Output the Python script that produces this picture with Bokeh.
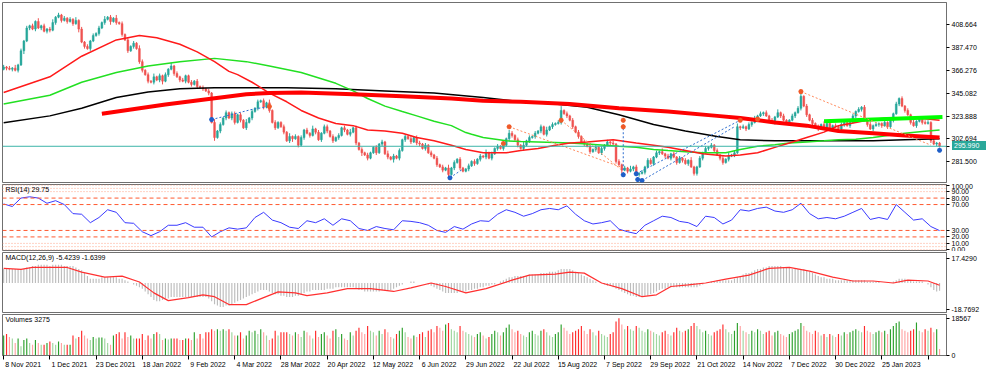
import numpy as np
from bokeh.plotting import figure
from bokeh.models import Range1d, FixedTicker, Label, Span, ColumnDataSource, Div
from bokeh.layouts import column
from bokeh.embed import file_html
from bokeh.resources import INLINE

# ---------------- data ----------------
date_labels = ["8 Nov 2021", "1 Dec 2021", "23 Dec 2021", "18 Jan 2022", "9 Feb 2022",
               "4 Mar 2022", "28 Mar 2022", "20 Apr 2022", "12 May 2022", "6 Jun 2022",
               "29 Jun 2022", "22 Jul 2022", "15 Aug 2022", "7 Sep 2022", "29 Sep 2022",
               "21 Oct 2022", "14 Nov 2022", "7 Dec 2022", "30 Dec 2022", "25 Jan 2023",
               "16 Feb 2023"]
date_label_bars = [0, 16, 32, 48, 64, 80, 96, 112, 128, 144, 160, 176, 192, 208, 224,
                   240, 256, 272, 288, 304, 320]
price_ticks = [281.5, 302.694, 323.888, 345.082, 366.276, 387.47, 408.664]
last_price = 295.99

first_open = 367.0
closes = [
    369, 368, 367, 368, 366, 371, 384, 393, 405, 407, 404, 411, 405, 407, 402, 404,
    403, 410, 415, 417, 412, 414, 411, 413, 409, 412, 404, 392, 388, 386, 393, 398,
    400, 405, 410, 413, 415, 411, 414, 410, 409, 399, 394, 384, 388, 391, 386, 374,
    366, 362, 356, 355, 360, 357, 361, 356, 362, 367, 370, 363, 360, 357, 356, 361,
    355, 353, 356, 351, 350, 349, 347, 345, 318, 304, 310, 316, 322, 327, 322, 326,
    318, 325, 320, 313, 318, 322, 328, 331, 337, 338, 332, 336, 329, 318, 313, 318,
    314, 309, 301, 305, 303, 305, 297, 304, 311, 308, 306, 312, 309, 302, 308, 314,
    310, 305, 301, 304, 306, 313, 311, 307, 309, 313, 299, 293, 290, 288, 285, 290,
    295, 290, 298, 300, 289, 286, 284, 287, 285, 292, 302, 305, 303, 300, 304, 299,
    298, 294, 297, 290, 288, 285, 279, 277, 274, 276, 270, 276, 281, 284, 276, 273,
    275, 278, 282, 280, 284, 287, 286, 290, 285, 289, 294, 296, 294, 297, 303, 308,
    306, 302, 297, 294, 297, 301, 304, 305, 308, 310, 314, 307, 311, 314, 316, 317,
    318, 329, 326, 324, 320, 314, 309, 305, 300, 298, 296, 291, 293, 295, 290, 294,
    297, 300, 299, 298, 282, 279, 274, 276, 273, 275, 277, 270, 271, 272, 277, 283,
    280, 286, 290, 291, 289, 287, 285, 289, 286, 281, 285, 283, 280, 283, 277, 271,
    277, 285, 290, 294, 295, 297, 292, 288, 285, 281, 284, 287, 288, 290, 314, 313,
    314, 312, 316, 318, 321, 324, 326, 327, 324, 320, 318, 323, 327, 324, 320, 318,
    320, 324, 327, 331, 342, 333, 325, 320, 317, 314, 312, 316, 313, 317, 312, 315,
    314, 312, 316, 318, 315, 318, 324, 328, 330, 332, 320, 316, 312, 315, 316, 317,
    315, 318, 314, 320, 326, 335, 340, 333, 329, 325, 318, 315, 319, 321, 318, 317,
    318, 301, 298, 299, 295.99]
upper_wick = ("2121312121213121" "2312121213121212" "1213121312121213" "2121312121312121"
              "1212121213121212" "2121312121213121" "1213121212131212" "2121212131212121"
              "1212131212121312" "2121212121312121" "1212121312121213" "2121312121213121"
              "2412121212131212" "1212121213121212" "2121312121212131" "1212121212131231"
              "2121312121213121" "1212412121213121" "2121312121213121" "1212121212131212"
              "21211")
lower_wick = ("1212121312121212" "2121212121312121" "1212131212121212" "2121212312121212"
              "1212121213121212" "2121212121212121" "1212312121212121" "2121212121213121"
              "1212121312121212" "2121212121312121" "1212121212121212" "2121212121212121"
              "1212121212121212" "2121213121212121" "1212121212121212" "2121212122121212"
              "1212121212121212" "2121212121212121" "1212121212121212" "2121212121212121"
              "12121")

volumes = [
    10000, 10800, 9300, 8500, 6200, 8500, 4600, 7700, 8500, 6200, 5400, 7700, 6200, 5400, 5400, 6200,
    7000, 6200, 5400, 7000, 6200, 5400, 5400, 5400, 10000, 8500, 9300, 12400, 10000, 8500, 7700, 9300,
    8500, 9000, 9000, 8500, 6200, 5400, 10000, 10800, 11600, 8500, 11600, 9300, 10000, 8500, 8500, 8500,
    10800, 7700, 10000, 8500, 10800, 11600, 10800, 7700, 8500, 8000, 8500, 8500, 8500, 7700, 7700, 8500,
    8500, 7700, 11600, 8500, 10800, 8500, 11600, 11600, 13100, 12400, 13100, 12400, 13100, 12400, 13100, 11600,
    10000, 10000, 11600, 8500, 10000, 12400, 11600, 12400, 10800, 13100, 11600, 10000, 7700, 8500, 12400, 10000,
    11600, 11600, 11600, 10800, 10000, 11600, 10800, 9300, 12400, 11600, 10000, 8500, 12400, 9300, 10800, 11600,
    10000, 8500, 12400, 13100, 9300, 10800, 8500, 7700, 11600, 10000, 12400, 13900, 11600, 10800, 14700, 12400,
    11600, 10000, 12400, 10800, 13100, 11600, 9300, 8500, 10800, 12400, 13900, 11600, 9300, 8500, 10000, 9300,
    10800, 11600, 9300, 12400, 13100, 11600, 14700, 13900, 12400, 15500, 16200, 13100, 12400, 11600, 14700, 12400,
    11600, 10800, 10000, 9300, 10800, 11600, 10000, 8500, 9300, 10800, 12400, 11600, 10000, 11600, 13900, 15500,
    13100, 11600, 12400, 10800, 10000, 9300, 11600, 12400, 10800, 10000, 12400, 13100, 11600, 10000, 9300, 10800,
    11600, 15500, 13900, 12400, 10800, 11600, 12400, 13100, 14700, 12400, 10800, 13100, 11600, 10000, 12400, 10800,
    10000, 9300, 10800, 11600, 17000, 18567, 15500, 13100, 14700, 13100, 12400, 14700, 13900, 12400, 11600, 13100,
    12400, 11600, 10800, 10000, 11600, 12400, 10800, 10000, 11600, 13900, 12400, 11600, 12400, 13100, 14700, 16200,
    14700, 13100, 11600, 12400, 10800, 10000, 11600, 12400, 13100, 15500, 13100, 11600, 10800, 12400, 16200, 14700,
    12400, 11600, 10800, 12400, 11600, 13100, 12400, 10800, 11600, 12400, 10000, 11600, 12400, 10800, 10000, 9300,
    10800, 11600, 12400, 13100, 16200, 14700, 12400, 11600, 10800, 12400, 11600, 10000, 10800, 9300, 10800, 10000,
    9300, 10800, 10000, 11600, 10800, 11600, 12400, 13100, 12400, 11600, 14700, 12400, 11600, 10800, 11600, 12400,
    11600, 12400, 10800, 13100, 14700, 16200, 17000, 13100, 12400, 11600, 12400, 13100, 16500, 12400, 11600, 13100,
    12400, 13900, 11600, 13100, 3275]

macd_main = [
    10, 10, 10, 10, 10, 10, 10, 10, 11, 11, 12, 12, 13, 13, 13, 13,
    12, 13, 13, 13, 13, 12, 12, 12, 12, 11, 10, 9, 7, 5, 3, 3,
    3, 3, 4, 4, 4, 4, 4, 4, 3, 3, 2, 1, 0, -1, -2, -3,
    -4, -6, -8, -10, -12, -13, -13, -12, -11, -11, -10, -10, -10, -10, -10, -10,
    -10, -10, -10, -10, -10, -10, -10, -11, -13, -15, -16, -17, -17, -16, -16, -15,
    -14, -13, -12, -11, -10, -9, -8, -7, -6, -5, -5, -5, -6, -7, -8, -8,
    -9, -9, -10, -10, -10, -9, -9, -8, -7, -6, -6, -5, -5, -5, -5, -5,
    -4, -4, -4, -3, -3, -3, -3, -3, -3, -3, -4, -5, -5, -6, -6, -6,
    -6, -6, -6, -5, -5, -5, -5, -4, -3, -2, -1, 0, 0, 1, 1, 0,
    0, 0, 0, -1, -2, -3, -4, -5, -6, -7, -7, -7, -7, -7, -6, -6,
    -6, -5, -5, -4, -4, -3, -3, -2, -2, -1, -1, 0, 1, 2, 3, 4,
    4, 5, 5, 5, 5, 5, 6, 6, 6, 6, 7, 7, 7, 8, 8, 8,
    9, 10, 10, 10, 10, 9, 8, 7, 6, 5, 4, 3, 2, 1, 0, 0,
    -1, -2, -2, -3, -4, -5, -6, -7, -8, -9, -9, -10, -10, -10, -9, -9,
    -8, -7, -6, -5, -4, -4, -3, -3, -3, -3, -3, -3, -3, -3, -3, -3,
    -3, -2, -1, 0, 0, 1, 1, 2, 2, 2, 2, 2, 2, 3, 4, 5,
    6, 7, 7, 8, 9, 10, 10, 11, 11, 12, 12, 12, 12, 12, 11, 11,
    11, 10, 10, 10, 10, 10, 9, 8, 7, 6, 5, 4, 4, 3, 3, 3,
    2, 2, 2, 2, 2, 2, 2, 2, 2, 2, 2, 1, 1, 1, 1, 1,
    0, 0, 0, 0, 1, 2, 3, 3, 3, 2, 2, 1, 1, 1, 1, 0,
    -1, -3, -5, -6, -5.4239]

signal_bars = [0, 6, 10, 22, 27, 35, 41, 47, 52, 57, 64, 69, 73, 78, 84, 90, 95, 101, 105, 112,
               119, 127, 135, 141, 148, 153, 160, 167, 176, 182, 191, 196, 201, 207, 214, 221,
               226, 231, 237, 243, 250, 258, 265, 272, 279, 287, 294, 301, 308, 313, 320, 324]
signal_vals = [10.4, 9.7, 11, 11, 7.7, 4.2, 4.9, 0.7, -7, -12.5, -10.4, -8.4, -9.7, -15.3, -15.3,
               -10.4, -6.3, -7, -9, -7, -4, -4, -6, -3.5, 0, -2.5, -7, -4, 2, 5.6, 6.3, 7.7, 7, 0,
               -4, -9.7, -8.4, -2.5, -1.4, 0, 2.8, 5.6, 10.4, 11, 8.4, 4.2, 1.4, 1.4, 0, 2, 1.4,
               -1.6399]

rsi_bars = list(range(0, 325, 3))
rsi_vals = [71, 67, 80, 82, 80, 72, 76, 70, 56, 55,
            42, 50, 62, 58, 42, 41, 28, 22, 28, 38,
            38, 42, 35, 35, 20, 28, 34, 32, 34, 50,
            58, 46, 42, 35, 33, 45, 42, 48, 38, 48,
            45, 33, 30, 36, 33, 31, 45, 44, 42, 38,
            30, 27, 36, 32, 40, 45, 44, 55, 62, 58,
            52, 56, 62, 64, 62, 68, 55, 45, 40, 42,
            45, 32, 28, 25, 38, 45, 52, 50, 44, 42,
            36, 52, 50, 40, 46, 62, 60, 64, 66, 60,
            58, 62, 72, 56, 48, 50, 48, 52, 58, 64,
            47, 50, 47, 70, 58, 46, 48, 36, 29.75]
rsi_levels_dashed = [80, 70, 30, 20]
rsi_levels_dotted = [100, 95, 90, 10, 5, 0]
rsi_ticks = [100, 90, 80, 70, 30, 20, 10, 0]

ma_red_bars = [0, 16, 27, 39, 47, 53, 61, 67, 73, 78, 81, 86, 92, 98, 103, 109, 115, 121, 126, 132,
               138, 143, 149, 155, 160, 166, 174, 179, 185, 191, 196, 202, 211, 219, 225, 230, 236,
               242, 250, 255, 261, 267, 272, 278, 284, 289, 295, 301, 306, 312, 318, 324]
ma_red_vals = [345.5, 360, 379, 394, 398, 396, 390, 383, 374, 365, 362, 355, 345, 337, 329, 322, 317,
               315, 311, 310, 308, 304, 301, 297, 293, 290, 290, 292, 294, 297, 299, 300, 302, 299,
               297, 295, 292, 289, 287, 288, 290, 295, 299, 304, 309, 315, 318, 321, 322, 322, 321.5,
               320]
ma_green_bars = [0, 16, 27, 39, 50, 61, 73, 84, 92, 103, 115, 121, 126, 132, 138, 143, 149, 155, 160,
                 162, 166, 174, 179, 185, 191, 196, 202, 208, 213, 219, 225, 230, 236, 242, 250, 255,
                 261, 267, 272, 278, 284, 289, 295, 301, 306, 312, 318, 324]
ma_green_vals = [335, 343, 355, 364, 370, 374, 377, 374, 370, 364, 354, 347, 340, 333, 328, 324, 319,
                 315, 308.6, 307, 304, 301, 300.5, 300, 299.5, 299, 298, 297, 296, 295, 293, 292, 291,
                 290, 290, 293, 296, 297.5, 299, 300, 301, 302, 302.5, 304, 306, 308, 309.5, 311]
ma_black_bars = [0, 16, 27, 39, 50, 61, 73, 84, 98, 115, 132, 149, 166, 179, 191, 202, 213, 225, 236,
                 247, 255, 267, 278, 289, 301, 312, 324]
ma_black_vals = [317.6, 324, 331, 341, 346, 349, 350, 350, 350, 349, 347, 345, 341, 337, 335, 332, 325,
                 316, 310, 305, 302, 301, 301, 301, 301, 302, 303]
thick_red_bars = [34, 56, 84, 92, 103, 121, 138, 155, 166, 179, 196, 213, 230, 247, 255, 267, 278, 289,
                  301, 312, 324]
thick_red_vals = [326, 334.5, 344, 345, 345.5, 344, 342, 340, 338, 337, 335, 331, 328, 324, 322, 318,
                  315, 310, 308, 306, 304]
lime_bars = [284, 325]
lime_vals = [319.1, 322.9]

orange_mark_bars = [92, 173, 175, 193, 214.5, 214.5, 255, 261, 276]
orange_mark_vals = [332.6, 298.6, 314, 320, 320, 314, 320, 321, 346.4]
blue_mark_bars = [72, 154.5, 214.5, 219, 219.5, 221, 324]
blue_mark_vals = [320.6, 267, 269.8, 270.7, 265.3, 264.4, 292.3]
orange_dash_lines = [([175, 213.5], [314, 277]), ([193, 213.5], [320, 275]), ([276, 321], [346.4, 297])]
blue_dash_lines = [([72, 86, 92], [320.6, 330, 332.6]), ([214.5, 214.5], [320, 269.8]),
                   ([219, 255], [270.7, 320]), ([221, 253], [264.4, 314]), ([154.5, 159], [267, 275])]

# ---------------- derived ----------------
n = len(closes)
bars = list(range(n))
opens = [first_open] + closes[:-1]
uw = [int(ch) for ch in upper_wick]
lw = [int(ch) for ch in lower_wick]
highs = [max(o, c) + u for o, c, u in zip(opens, closes, uw)]
lows = [min(o, c) - l for o, c, l in zip(opens, closes, lw)]
UP, DN = "#26a69a", "#ef5350"
ccol = [UP if c >= o else DN for o, c in zip(opens, closes)]
candles = ColumnDataSource(dict(x=bars, o=opens, c=closes, h=highs, l=lows,
                                top=[max(o, c) for o, c in zip(opens, closes)],
                                bot=[min(o, c) for o, c in zip(opens, closes)], col=ccol))
vcol = []
for i in range(n):
    up = closes[i] >= opens[i]
    inc = i == 0 or volumes[i] >= volumes[i - 1]
    if up:
        vcol.append("#2ca02c" if inc else "#9fd69f")
    else:
        vcol.append("#ff2a2a" if inc else "#ffa3a3")

FONT = "Liberation Sans"
FS = "7px"
FRAME_W = 944
MAIN_H = 180
MAIN_TOP = 2
x_range = Range1d(-0.4, 326.4)
main_range = Range1d(262.6, 428.5)


def panel(frame_h, y_range, top, bottom, xaxis=False):
    p = figure(frame_width=FRAME_W, frame_height=frame_h, x_range=x_range, y_range=y_range,
               output_backend="svg", toolbar_location=None, y_axis_location="right",
               x_axis_location="below" if xaxis else None,
               min_border_left=2, min_border_right=38, min_border_top=top, min_border_bottom=bottom)
    p.xgrid.visible = False
    p.ygrid.visible = False
    p.outline_line_color = "#707070"
    p.outline_line_width = 1
    p.background_fill_color = "white"
    p.border_fill_color = "white"
    ya = p.yaxis[0]
    ya.major_label_text_font = FONT
    ya.major_label_text_font_size = FS
    ya.major_label_text_color = "#000000"
    ya.major_tick_out = 3
    ya.major_tick_in = 0
    ya.major_tick_line_color = "#000000"
    ya.minor_tick_line_color = None
    ya.axis_line_color = "#707070"
    ya.major_label_standoff = 2
    return p


def title(p, text, y):
    p.add_layout(Label(x=-0.4, y=y, x_offset=3, y_offset=-1, text=text, text_baseline="top",
                       text_font=FONT, text_font_size=FS, text_color="#000000"))


# ---------------- main price panel ----------------
pm = panel(MAIN_H, main_range, MAIN_TOP, 1)
pm.yaxis[0].ticker = FixedTicker(ticks=price_ticks + [last_price])
overrides = {v: f"{v:.3f}" for v in price_ticks}
overrides[last_price] = ""
pm.yaxis[0].major_label_overrides = overrides
pm.add_layout(Span(location=last_price, dimension="width", line_color="#3cb4a8", line_width=1))
pm.segment(x0="x", y0="l", x1="x", y1="h", color="col", line_width=1, source=candles)
pm.vbar(x="x", width=0.62, top="top", bottom="bot", fill_color="col", line_color="col",
        line_width=0.5, source=candles)
pm.line(ma_black_bars, ma_black_vals, line_color="#000000", line_width=1.5)
pm.line(ma_green_bars, ma_green_vals, line_color="#22e022", line_width=1.5)
pm.line(ma_red_bars, ma_red_vals, line_color="#ff1a1a", line_width=1.5)
pm.line(thick_red_bars, thick_red_vals, line_color="#ff0000", line_width=4)
pm.line(lime_bars, lime_vals, line_color="#00ff00", line_width=4)
for xs, ys in orange_dash_lines:
    pm.line(xs, ys, line_color="#ff8a5c", line_width=1, line_dash="2 2")
for xs, ys in blue_dash_lines:
    pm.line(xs, ys, line_color="#2f6fd0", line_width=1, line_dash="2 2")
pm.scatter(orange_mark_bars, orange_mark_vals, marker="asterisk", size=5, line_color="#f05a28",
           line_width=1.5)
pm.scatter(blue_mark_bars, blue_mark_vals, marker="asterisk", size=5, line_color="#1f5fc8",
           line_width=1.5)

# current-price tag in the right margin (HTML, positioned over the axis area)
tag_y = MAIN_TOP + (main_range.end - last_price) / (main_range.end - main_range.start) * MAIN_H
price_tag = Div(text=f"{last_price:.3f}", width=34, height=9,
                styles={"position": "absolute", "left": f"{2 + FRAME_W + 1}px",
                        "top": f"{tag_y - 9.5:.1f}px", "background-color": "#2aa89a",
                        "color": "#ffffff", "font-family": FONT, "font-size": FS,
                        "line-height": "9px", "padding-left": "2px", "z-index": "10"})

# ---------------- RSI panel ----------------
pr = panel(66, Range1d(-1, 101), 1, 1)
pr.yaxis[0].ticker = FixedTicker(ticks=rsi_ticks)
pr.yaxis[0].major_label_overrides = {v: f"{v:.2f}" for v in rsi_ticks}
for v in rsi_levels_dotted:
    pr.add_layout(Span(location=v, dimension="width", line_color="#ffa488", line_width=1,
                       line_dash="1 2"))
for v in rsi_levels_dashed:
    pr.add_layout(Span(location=v, dimension="width", line_color="#ff5a30", line_width=1,
                       line_dash="4 3"))
pr.line(rsi_bars, rsi_vals, line_color="#3a3aff", line_width=1)
title(pr, f"RSI(14) {rsi_vals[-1]:.2f}", 101)

# ---------------- MACD panel ----------------
macd_ticks = [17.429, -18.7692]
pc = panel(60, Range1d(-20.9, 21.6), 1, 1)
pc.yaxis[0].ticker = FixedTicker(ticks=macd_ticks)
pc.yaxis[0].major_label_overrides = {17.429: "17.4290", -18.7692: "-18.7692"}
pc.vbar(x=bars, width=0.4, top=macd_main, bottom=0, fill_color="#bdbdbd", line_color=None)
pc.line(signal_bars, signal_vals, line_color="#ff3030", line_width=1.2)
title(pc, f"MACD(12,26,9) {macd_main[-1]:.4f} {signal_vals[-1]:.4f}", 21.6)

# ---------------- Volume panel ----------------
vol_ticks = [0, 18567]
pv = panel(41, Range1d(0, 20500), 1, 15, xaxis=True)
pv.yaxis[0].ticker = FixedTicker(ticks=vol_ticks)
pv.yaxis[0].major_label_overrides = {0: "0", 18567: "18567"}
pv.vbar(x=bars, width=0.4, top=volumes, bottom=0, fill_color=vcol, line_color=None)
title(pv, f"Volumes {volumes[-1]}", 20500)
xa = pv.xaxis[0]
label_pos = [b + 6.75 for b in date_label_bars]
xa.ticker = FixedTicker(ticks=label_pos, minor_ticks=date_label_bars)
xa.major_label_overrides = {p: s for p, s in zip(label_pos, date_labels)}
xa.major_tick_line_color = None
xa.major_tick_out = 3
xa.major_tick_in = 0
xa.minor_tick_line_color = "#000000"
xa.minor_tick_out = 4
xa.minor_tick_in = 0
xa.axis_line_color = "#707070"
xa.major_label_standoff = 1
xa.major_label_text_font = FONT
xa.major_label_text_font_size = FS
xa.major_label_text_color = "#000000"

layout = column(pm, pr, pc, pv, price_tag, styles={"position": "relative"})
open("out.html", "w").write(file_html(layout, INLINE))
